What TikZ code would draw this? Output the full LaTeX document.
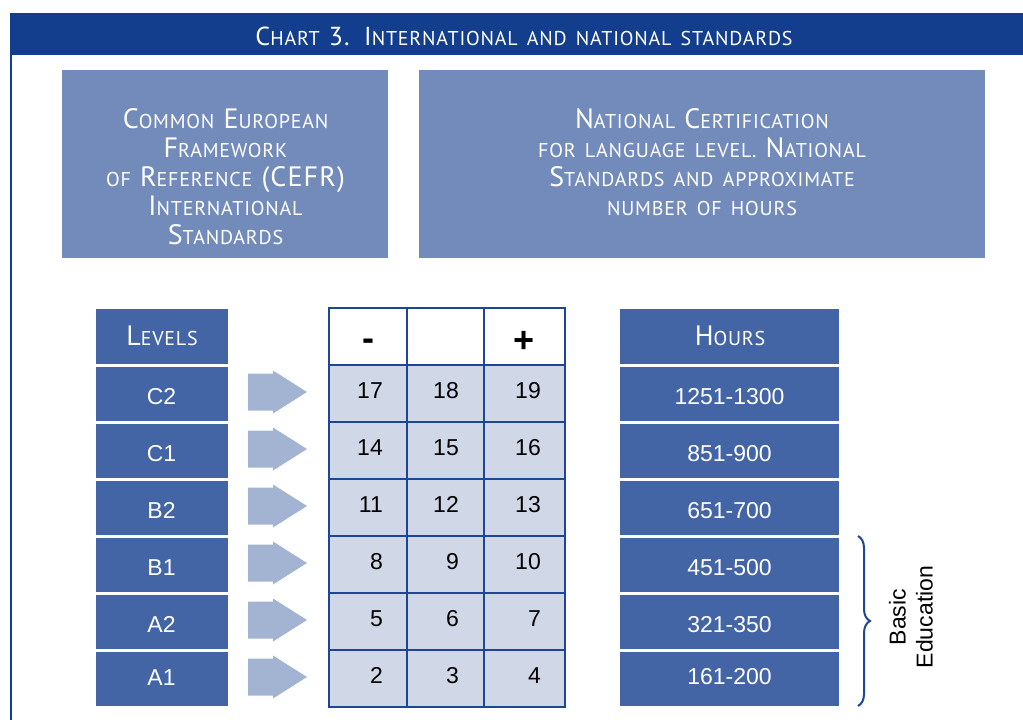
\documentclass[tikz,border=0pt]{standalone}
\usepackage{fontspec}
\setmainfont{Liberation Sans}
\newfontfamily\scf[LetterSpace=4,WordSpace=1.5]{PT Sans}
\usetikzlibrary{decorations.pathreplacing}
\definecolor{titleblue}{RGB}{19,62,141}
\definecolor{topbox}{RGB}{114,139,187}
\definecolor{lvlblue}{RGB}{67,101,166}
\definecolor{arrowblue}{RGB}{163,179,210}
\definecolor{gridfill}{RGB}{208,216,232}
\definecolor{gridline}{RGB}{30,70,150}
\newcommand\TB[1]{{\fontsize{26}{26}\selectfont #1}}
\newcommand\TS[1]{{\fontsize{20}{20}\selectfont #1}}
\newcommand\HB[1]{{\fontsize{28}{28}\selectfont #1}}
\newcommand\HS[1]{{\fontsize{20}{20}\selectfont #1}}
\begin{document}
\begin{tikzpicture}[x=1pt,y=-1pt,
  sctext/.style={text=white,font=\scf,inner sep=0pt,anchor=base},
  bigbox/.style={fill=topbox,draw=none,inner sep=0pt,anchor=north west},
  lvlbox/.style={fill=lvlblue,text=white,inner sep=0pt,minimum width=132pt,minimum height=54.5pt,font=\fontsize{23}{23}\selectfont,text height=21pt},
  hrbox/.style={lvlbox,minimum width=219pt},
  num/.style={inner sep=0pt,anchor=base east,font=\fontsize{23}{23}\selectfont},
  gline/.style={draw=gridline,line width=2pt}
]
\useasboundingbox (0,0) rectangle (1023,720);
% title bar
\fill[titleblue] (10,13) rectangle (1023,55);
\node[sctext] (title) at (524,45) {\TB{C}\TS{HART }\TB{3. I}\TS{NTERNATIONAL AND NATIONAL STANDARDS}};
\draw[titleblue,line width=1.5pt] (11,55) -- (11,720);
% top boxes
\node[bigbox,minimum width=326pt,minimum height=188pt] (cefr) at (62,70) {};
\node[bigbox,minimum width=566pt,minimum height=188pt] (nat) at (419,70) {};
\node[sctext] (l1) at (225.5,128) {\HB{C}\HS{OMMON }\HB{E}\HS{UROPEAN}};
\node[sctext] (l2) at (225.5,157) {\HB{F}\HS{RAMEWORK}};
\node[sctext] (l3) at (225.5,186) {\HS{OF }\HB{R}\HS{EFERENCE }\HB{(CEFR)}};
\node[sctext] (l4) at (225.5,215) {\HB{I}\HS{NTERNATIONAL}};
\node[sctext] (l5) at (225.5,244) {\HB{S}\HS{TANDARDS}};
\node[sctext] (r1) at (702,128) {\HB{N}\HS{ATIONAL }\HB{C}\HS{ERTIFICATION}};
\node[sctext] (r2) at (702,157) {\HS{FOR LANGUAGE LEVEL. }\HB{N}\HS{ATIONAL}};
\node[sctext] (r3) at (702,186) {\HB{S}\HS{TANDARDS AND APPROXIMATE}};
\node[sctext] (r4) at (702,215) {\HS{NUMBER OF HOURS}};
% levels and hours columns
\node[lvlbox,minimum height=55pt] (lvh) at (161.5,336.5) {};
\node[sctext] (lvht) at (162,345) {\HB{L}\HS{EVELS}};
\node[hrbox,minimum height=55pt] (hrh) at (729.5,336.5) {};
\node[sctext] (hrht) at (730,345) {\HB{H}\HS{OURS}};
\foreach \lab/\hr/\yc/\th [count=\i] in {C2/1251-1300/394/21, C1/851-900/451/21, B2/651-700/508/21, B1/451-500/565/21, A2/321-350/622/21, A1/161-200/679/12}{
  \node[lvlbox,text height=\th pt] (lv\i) at (161.5,\yc) {\lab};
  \node[hrbox,text height=\th pt] (hr\i) at (729.5,\yc) {\hr};
  \fill[arrowblue] (248,\yc-20.5) -- (273,\yc-20.5) -- (273,\yc-23.5) -- (307,\yc-2) -- (273,\yc+19.5) -- (273,\yc+16.5) -- (248,\yc+16.5) -- cycle;
}
% grid
\fill[gridfill] (329,364.5) rectangle (565,707);
\draw[gline] (329,308) rectangle (565,707);
\foreach \x in {407,484} \draw[gline] (\x,308) -- (\x,707);
\foreach \y in {364.5,421.5,478.5,535.5,592.5,649.5} \draw[gline] (329,\y) -- (565,\y);
\node[inner sep=0pt,font=\bfseries\fontsize{36}{36}\selectfont] (minus) at (368,345) {-};
\node[inner sep=0pt,font=\bfseries\fontsize{36}{36}\selectfont] (plus) at (524,342) {+};
\foreach \a/\b/\c/\yb in {17/18/19/398.5, 14/15/16/455.5, 11/12/13/512.5, 8/9/10/569.5, 5/6/7/626.5, 2/3/4/683.5}{
  \node[num] at (383,\yb) {\a};
  \node[num] at (459,\yb) {\b};
  \node[num] at (541,\yb) {\c};
}
% brace
\coordinate (bt) at (858,536);
\coordinate (bb) at (858,706);
\draw[gridline,line width=2pt,decorate,decoration={brace,amplitude=12pt}] (bt) -- (bb);
\node[rotate=90,align=center,inner sep=0pt,font=\fontsize{23}{27}\selectfont] (basic) at (911,617) {Basic\\Education};
\end{tikzpicture}
\end{document}
